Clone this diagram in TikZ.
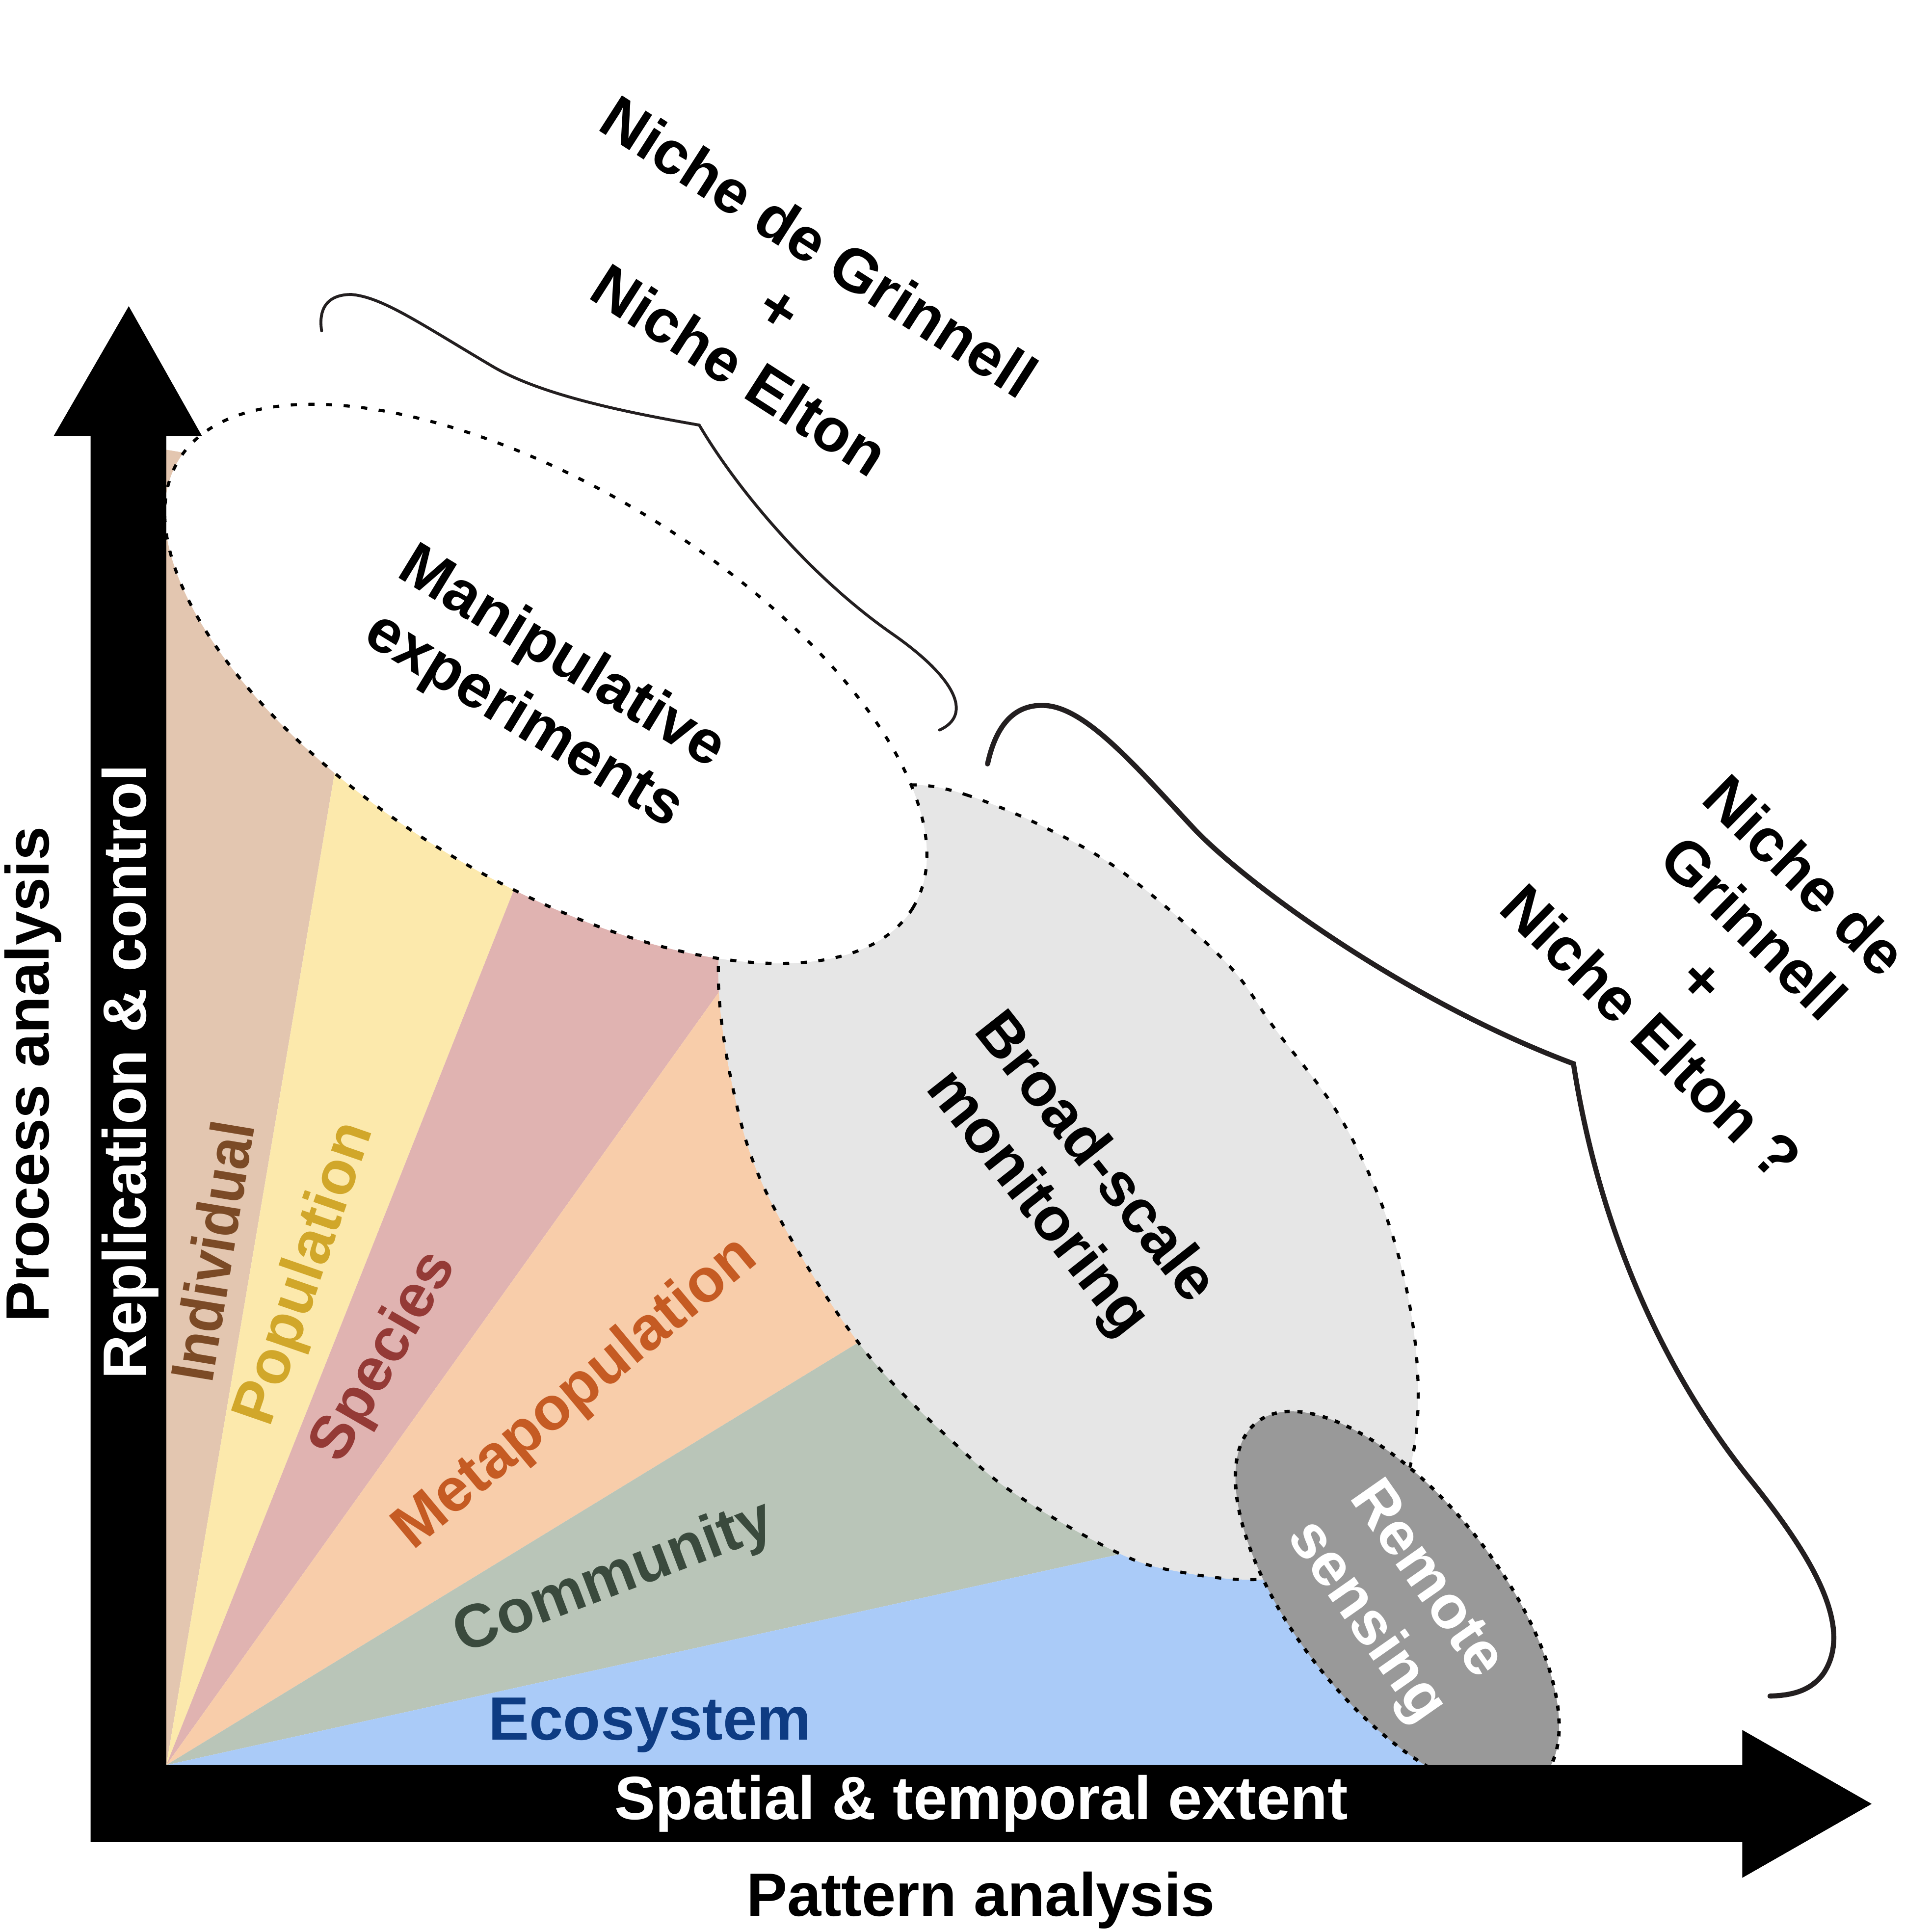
\documentclass[tikz,border=0pt]{standalone}
\usepackage{fontspec}
\setmainfont{Liberation Sans}
\newfontfamily\narrowsans[FakeStretch=0.92]{Liberation Sans}

\definecolor{indivFill}{HTML}{E3C6B0}
\definecolor{popFill}{HTML}{FCE9AC}
\definecolor{specFill}{HTML}{E0B3B1}
\definecolor{metaFill}{HTML}{F8CDAA}
\definecolor{commFill}{HTML}{B9C5B8}
\definecolor{ecoFill}{HTML}{AACBF8}
\definecolor{broadFill}{HTML}{E6E6E6}
\definecolor{remoteFill}{HTML}{999999}
\definecolor{indivText}{HTML}{7B4A26}
\definecolor{popText}{HTML}{D1A72A}
\definecolor{specText}{HTML}{943A36}
\definecolor{metaText}{HTML}{C55B23}
\definecolor{commText}{HTML}{3A4A3D}
\definecolor{ecoText}{HTML}{0E3C83}
\definecolor{braceGrey}{HTML}{231F20}

\def \labelFont {\fontsize{18}{21.6}\selectfont\bfseries}

\tikzset{
  scalelabel/.style={font=\labelFont, inner sep=0pt, align=center},
  zoneline/.style={draw=black, line width=0.9pt, dash pattern=on 1.8pt off 3.4pt},
  nichebrace/.style={draw=braceGrey, line cap=round, line join=miter},
}

\begin{document}
\begin{tikzpicture}[x=0.0127551cm, y=-0.0127551cm]
\useasboundingbox (0,0) rectangle (1568,1568);

% fan of the levels of organisation
\coordinate (O) at (135,1432.5);
\coordinate (e1) at (355,135.5);
\coordinate (e2) at (650,135.5);
\coordinate (e3) at (1030,180.5);
\coordinate (e4) at (1260,745.5);
\coordinate (e5) at (1433,1145.5);
\begin{scope}
  \clip (135,1432.5) -- (135,365) -- (165,370) -- (400,480) -- (700,690) -- (1100,1100) -- (1120,1200) -- (1160,1432.5) -- cycle;
  \fill[indivFill] (O) -- (135,0) -- (e1) -- cycle;
  \fill[popFill] (O) -- (e1) -- (e2) -- cycle;
  \fill[specFill] (O) -- (e2) -- (e3) -- cycle;
  \fill[metaFill] (O) -- (e3) -- (e4) -- cycle;
  \fill[commFill] (O) -- (e4) -- (e5) -- cycle;
  \fill[ecoFill] (O) -- (e5) -- (1600,1432.5) -- cycle;
\end{scope}

% the three kinds of study
\draw[zoneline, fill=broadFill] plot[smooth cycle, tension=0.6] coordinates {
  (740,637) (784,645) (849,672) (914,710) (994,780) (1034,834) (1089,909)
  (1129,999) (1149,1094) (1147,1179) (1120,1240) (1070,1275) (1015,1282)
  (959,1276) (911,1262) (834,1219) (784,1180) (700,1094) (625,974) (595,884)
  (583,784) (600,710) (650,665) (700,645)};
\draw[zoneline, fill=white, rotate around={-31.4:(443,555)}] (443,555) ellipse [x radius=349, y radius=159];
\draw[zoneline, fill=remoteFill, line width=1pt, dash pattern=on 1.5pt off 2.3pt, rotate around={-52:(1134,1300)}] (1134,1300) ellipse [x radius=185, y radius=83];

% axes
\fill[black] (73.5,1495) -- (73.5,354) -- (43.5,354) -- (104.5,248.5) -- (164,354) -- (135,354)
  -- (135,1432.5) -- (1414,1432.5) -- (1414,1404) -- (1519,1464) -- (1414,1524) -- (1414,1495) -- cycle;

% braces
\draw[nichebrace, line width=0.85pt] (261,268.5) .. controls (258,248) and (268,239) .. (285,239)
  .. controls (310,241) and (340,262) .. (400,297.5)
  .. controls (440,321) and (510,335) .. (567.5,345)
  .. controls (600,400) and (660,470) .. (725,515)
  .. controls (775,550) and (790,580) .. (762.5,592.5);
\draw[nichebrace, line width=1.5pt] (801.5,620) .. controls (808,590) and (822,572) .. (846.5,572.5)
  .. controls (880,573) and (920,620) .. (969,672.5)
  .. controls (1010,716) and (1140,812) .. (1277,863.3)
  .. controls (1295,980) and (1340,1100) .. (1419,1199)
  .. controls (1470,1262) and (1505,1320) .. (1480,1358)
  .. controls (1470,1372) and (1455,1376) .. (1436.5,1376.5);

% levels
\node[scalelabel, text=indivText, font=\fontsize{18}{21.6}\selectfont\narrowsans\bfseries, rotate=80.6] (individual) at (172,1015.5) {Individual};
\node[scalelabel, text=popText, rotate=70.9] (population) at (248.5,1034) {Population};
\node[scalelabel, text=specText, rotate=60] (species) at (312.5,1101.5) {Species};
\node[scalelabel, text=metaText, rotate=39.8] (metapop) at (467.5,1131.5) {Metapopulation};
\node[scalelabel, text=commText, rotate=20.8] (community) at (498.5,1281.5) {Community};
\node[scalelabel, text=ecoText] (ecosystem) at (527.5,1400) {Ecosystem};

% studies and niches
\node[scalelabel, rotate=-31.4] (manip) at (440,560) {Manipulative\\experiments};
\node[scalelabel, rotate=-51.7] (broad) at (864,959) {Broad-scale\\monitoring};
\node[scalelabel, text=white, rotate=-55] (remote) at (1132,1300) {Remote\\sensing};
\node[scalelabel, rotate=-32.7] (nicheA) at (632.8,249.9) {Niche de Grinnell\\+\\Niche Elton};
\node[scalelabel, rotate=-44.5] (nicheB) at (1402.8,773.8) {Niche de\\Grinnell\\+\\Niche Elton ?};

% axis labels
\node[scalelabel, anchor=base, rotate=90] (process) at (39.5,872) {Process analysis};
\node[scalelabel, anchor=base, rotate=90, text=white] (replication) at (118.5,870) {Replication \& control};
\node[scalelabel, anchor=base, text=white] (extent) at (796.5,1476.5) {Spatial \& temporal extent};
\node[scalelabel, anchor=base] (pattern) at (796,1555) {Pattern analysis};
\end{tikzpicture}
\end{document}
